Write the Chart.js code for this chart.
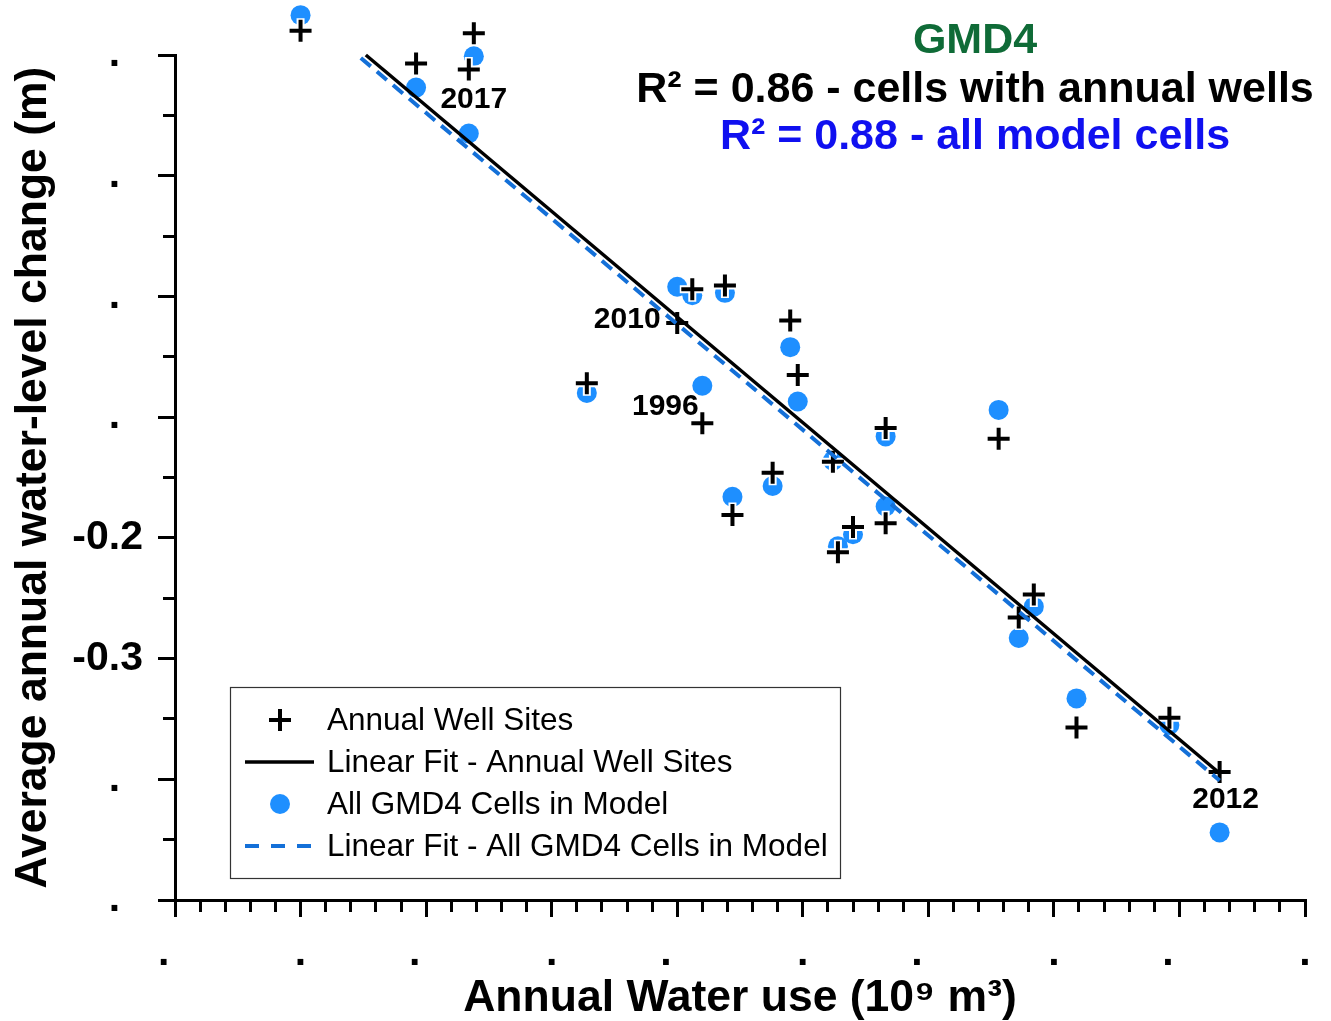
<!DOCTYPE html>
<html><head><meta charset="utf-8">
<script src="https://cdn.jsdelivr.net/npm/chart.js@4.4.1/dist/chart.umd.min.js"></script>
<style>html,body{margin:0;padding:0;background:#fff;} canvas{display:block;}</style>
</head><body>
<canvas id="c" width="1331" height="1021"></canvas>
<script>
// ---- data ----
const waterUse = [0.400, 0.446, 0.469, 0.467, 0.514, 0.550, 0.556, 0.569, 0.560, 0.572, 0.588, 0.595,
                  0.598, 0.612, 0.614, 0.620, 0.633, 0.633, 0.678, 0.686, 0.692, 0.709, 0.746, 0.766];
const wellChange = [0.220, 0.193, 0.218, 0.188, -0.072, -0.022, 0.006, 0.009, -0.105, -0.181, -0.146, -0.020,
                    -0.065, -0.137, -0.212, -0.191, -0.109, -0.188, -0.118, -0.266, -0.247, -0.357, -0.349, -0.394];
const cellChange = [0.233, 0.173, 0.199, 0.135, -0.080, 0.008, 0.001, 0.003, -0.074, -0.166, -0.157, -0.042,
                    -0.087, -0.136, -0.207, -0.197, -0.116, -0.174, -0.094, -0.283, -0.257, -0.333, -0.355, -0.444];
const fitWellX = [0.426, 0.766];
const fitWellY = [0.200, -0.395];
const fitCellX = [0.424, 0.766];
const fitCellY = [0.1975, -0.401];
const yearLabels = ['2017', '2010', '1996', '2012'];
const yearPointIndex = [3, 5, 8, 23];
const seriesLabels = ['Annual Well Sites', 'Linear Fit - Annual Well Sites', 'All GMD4 Cells in Model', 'Linear Fit - All GMD4 Cells in Model'];
const headerLines = ['GMD4', 'R\u00B2 = 0.86 - cells with annual wells', 'R\u00B2 = 0.88 - all model cells'];
const xMajorTicks = [0.35, 0.40, 0.45, 0.50, 0.55, 0.60, 0.65, 0.70, 0.75, 0.80];
const xTickLabels = ['.  ', '.', '.  ', '.', '.  ', '.', '.  ', '.', '.  ', '.'];
const yMajorTicks = [0.2, 0.1, 0.0, -0.1, -0.2, -0.3, -0.4, -0.5];
const yTickLabels = ['.  ', '.  ', '.  ', '.  ', '-0.2', '-0.3', '.  ', '.  '];
const xTitle = 'Annual Water use (10\u2079 m\u00B3)';
const yTitle = 'Average annual water-level change (m)';

// ---- styles ----
const FONT = '"Liberation Sans", Arial, Helvetica, sans-serif';
const headerColors = ['#0f6b37', '#000000', '#1010f0'];
const headerY = [41, 90, 137];
const yearOffsets = [[5, 30], [-50, -3], [-37, -16], [6, 28]];
const dotColor = '#1e8fff';
const dashColor = '#1470d8';

function toPts(xs, ys) { return xs.map((x, i) => ({x: x, y: ys[i]})); }

function buildTicks(majors, sub) {
  const out = [];
  for (let i = 0; i < majors.length; i++) {
    out.push({value: majors[i], isMajor: true, label: i});
    if (i < majors.length - 1) {
      for (let k = 1; k < sub; k++) {
        out.push({value: majors[i] + (majors[i + 1] - majors[i]) * k / sub, isMajor: false});
      }
    }
  }
  return out.sort((a, b) => a.value - b.value);
}

// let marks that lie above the plot frame be drawn (as in the reference)
const overflow = {
  id: 'overflow',
  beforeDatasetsDraw(chart) {
    this._saved = chart.chartArea;
    const a = chart.chartArea;
    chart.chartArea = {left: a.left, right: a.right, top: 0, bottom: a.bottom, width: a.width, height: a.bottom};
  },
  afterDatasetsDraw(chart) {
    if (this._saved) chart.chartArea = this._saved;
  }
};

const extras = {
  id: 'extras',
  afterDatasetsDraw(chart) {
    const ctx = chart.ctx;
    const xs = chart.scales.x, ys = chart.scales.y;
    ctx.save();
    ctx.fillStyle = '#000';
    ctx.font = 'bold 30px ' + FONT;
    ctx.textAlign = 'center';
    ctx.textBaseline = 'middle';
    yearLabels.forEach((t, i) => {
      const idx = yearPointIndex[i];
      const px = xs.getPixelForValue(waterUse[idx]) + yearOffsets[i][0];
      const py = ys.getPixelForValue(wellChange[idx]) + yearOffsets[i][1];
      ctx.fillText(t, px, py);
    });
    ctx.restore();
  },
  afterDraw(chart) {
    const ctx = chart.ctx;
    ctx.save();
    ctx.textAlign = 'center';
    ctx.textBaseline = 'middle';
    ctx.font = 'bold 43px ' + FONT;
    headerLines.forEach((t, i) => { ctx.fillStyle = headerColors[i]; ctx.fillText(t, 975, headerY[i]); });
    const bx = 230, by = 687, bw = 610, bh = 191;
    ctx.fillStyle = '#fff';
    ctx.fillRect(bx, by, bw, bh);
    ctx.strokeStyle = '#333';
    ctx.lineWidth = 1.2;
    ctx.strokeRect(bx + 0.5, by + 0.5, bw, bh);
    const rows = [720, 762, 804, 846];
    const sx = 280;
    ctx.textAlign = 'left';
    ctx.font = '31.5px ' + FONT;
    seriesLabels.forEach((t, i) => {
      const ry = rows[i];
      ctx.save();
      if (i === 0) {
        ctx.strokeStyle = '#000'; ctx.lineWidth = 4;
        ctx.beginPath();
        ctx.moveTo(sx - 11, ry); ctx.lineTo(sx + 11, ry);
        ctx.moveTo(sx, ry - 11); ctx.lineTo(sx, ry + 11);
        ctx.stroke();
      } else if (i === 1) {
        ctx.strokeStyle = '#000'; ctx.lineWidth = 3.5;
        ctx.beginPath(); ctx.moveTo(245, ry); ctx.lineTo(314, ry); ctx.stroke();
      } else if (i === 2) {
        ctx.fillStyle = dotColor;
        ctx.beginPath(); ctx.arc(sx, ry, 10, 0, Math.PI * 2); ctx.fill();
      } else {
        ctx.strokeStyle = dashColor; ctx.lineWidth = 4;
        ctx.setLineDash([14, 12]);
        ctx.beginPath(); ctx.moveTo(245, ry); ctx.lineTo(314, ry); ctx.stroke();
      }
      ctx.restore();
      ctx.fillStyle = '#000';
      ctx.textBaseline = 'middle';
      ctx.fillText(t, 327, ry + 1);
    });
    ctx.restore();
  }
};

const cfg = {
  type: 'scatter',
  data: {
    datasets: [
      { label: seriesLabels[1], data: toPts(fitWellX, fitWellY), showLine: true, borderColor: '#000', borderWidth: 3.5,
        pointRadius: 0, clip: false, order: 0 },
      { label: seriesLabels[3], data: toPts(fitCellX, fitCellY), showLine: true, borderColor: dashColor, borderWidth: 4,
        borderDash: [13, 8], pointRadius: 0, clip: false, order: 1 },
      { label: seriesLabels[0], data: toPts(waterUse, wellChange), pointStyle: 'cross', pointRadius: 11,
        borderColor: '#000', backgroundColor: '#000', pointBorderWidth: 4, borderWidth: 4, clip: false, order: 2 },
      { label: 'halo', data: toPts(waterUse, wellChange), pointStyle: 'cross', pointRadius: 12.5,
        borderColor: '#fff', backgroundColor: '#fff', pointBorderWidth: 8, borderWidth: 8, clip: false, order: 3 },
      { label: seriesLabels[2], data: toPts(waterUse, cellChange), pointStyle: 'circle', pointRadius: 10,
        backgroundColor: dotColor, borderColor: dotColor, borderWidth: 0, pointBorderWidth: 0, clip: false, order: 4 }
    ]
  },
  options: {
    responsive: false,
    animation: false,
    devicePixelRatio: 1,
    layout: { padding: { top: 55, right: 26, left: 0, bottom: 0 } },
    plugins: { legend: { display: false }, tooltip: { enabled: false }, title: { display: false } },
    scales: {
      x: {
        type: 'linear', position: 'bottom', min: xMajorTicks[0], max: xMajorTicks[xMajorTicks.length - 1],
        afterFit(s) { s.height = 121; },
        afterBuildTicks(s) { s.ticks = buildTicks(xMajorTicks, 5); },
        border: { display: true, color: '#000', width: 3 },
        grid: {
          drawOnChartArea: false, drawTicks: true, tickLength: 17, color: '#000', tickColor: '#000', tickWidth: 3, lineWidth: 3,
          tickBorderDash: (c) => (c.tick && !c.tick.isMajor) ? [10, 100] : []
        },
        ticks: {
          autoSkip: false, maxRotation: 0, padding: 12, color: '#000',
          font: { family: FONT, size: 41, weight: 'bold', lineHeight: 1.2 },
          callback: function(v, i, ticks) { const t = ticks[i]; return t.isMajor ? xTickLabels[t.label] : ''; }
        },
        title: { display: true, text: xTitle, color: '#000', padding: 0,
          font: { family: FONT, size: 44.5, weight: 'bold', lineHeight: 1 } }
      },
      y: {
        type: 'linear', position: 'left', min: yMajorTicks[yMajorTicks.length - 1], max: yMajorTicks[0],
        afterFit(s) { s.width = 175; },
        afterBuildTicks(s) { s.ticks = buildTicks(yMajorTicks, 2); },
        border: { display: true, color: '#000', width: 3 },
        grid: {
          drawOnChartArea: false, drawTicks: true, tickLength: 17, color: '#000', tickColor: '#000', tickWidth: 3, lineWidth: 3,
          tickBorderDash: (c) => (c.tick && !c.tick.isMajor) ? [0, 5, 11, 100] : []
        },
        ticks: {
          autoSkip: false, padding: 15, color: '#000',
          font: { family: FONT, size: 41, weight: 'bold', lineHeight: 1.2 },
          callback: function(v, i, ticks) { const t = ticks[i]; return t.isMajor ? yTickLabels[t.label] : ''; }
        },
        title: { display: true, text: yTitle, color: '#000', padding: { top: 11, bottom: 0 },
          font: { family: FONT, size: 44.5, weight: 'bold', lineHeight: 1 } }
      }
    }
  },
  plugins: [overflow, extras]
};
new Chart(document.getElementById('c'), cfg);
</script>
</body></html>
